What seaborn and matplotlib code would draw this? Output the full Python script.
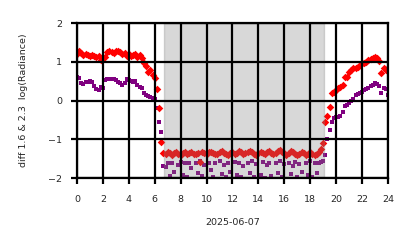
import numpy as np
import pandas as pd
import matplotlib
matplotlib.use("Agg")
import matplotlib.pyplot as plt
import seaborn as sns

# ---- data (10-minute samples, hours 0..24) ----
red_day1 = [1.2, 1.27, 1.22, 1.17, 1.2, 1.18,
            1.15, 1.18, 1.15, 1.12, 1.15, 1.05,
            1.1, 1.12, 1.25, 1.28, 1.25, 1.22,
            1.28, 1.27, 1.25, 1.2, 1.22, 1.15,
            1.2, 1.15, 1.18, 1.2, 1.12, 1.18,
            1.1, 0.98, 0.9, 0.75, 0.8, 0.65,
            0.58, 0.3, -0.18, -1.08, -1.35]
red_night = [-1.38, -1.33, -1.36, -1.40, -1.35, -1.32, -1.37, -1.41, -1.36, -1.33,
             -1.38, -1.36, -1.34, -1.37, -1.39, -1.35, -1.58, -1.33, -1.36, -1.38,
             -1.34, -1.32, -1.36, -1.39, -1.37, -1.34, -1.31, -1.35, -1.38, -1.40,
             -1.36, -1.33, -1.37, -1.35, -1.30, -1.34, -1.38, -1.36, -1.33, -1.29,
             -1.33, -1.37, -1.40, -1.36, -1.32, -1.35, -1.38, -1.34, -1.31, -1.36,
             -1.39, -1.35, -1.30, -1.27, -1.32, -1.36, -1.40, -1.36, -1.31, -1.34,
             -1.38, -1.41, -1.37, -1.33, -1.36, -1.40, -1.38, -1.34, -1.37, -1.41,
             -1.38, -1.33, -1.25]
red_day2 = [-1.1, -0.55, -0.4, -0.17, 0.2, 0.22,
            0.28, 0.32, 0.35, 0.4, 0.6, 0.62,
            0.73, 0.8, 0.83, 0.85, 0.86, 0.92,
            0.97, 0.98, 1.0, 1.05, 1.08, 1.1,
            1.12, 1.1, 1.03, 0.7, 0.85, 0.8, 0.85]

pur_day1 = [0.6, 0.58, 0.45, 0.42, 0.47, 0.48,
            0.5, 0.47, 0.38, 0.3, 0.27, 0.35,
            0.33, 0.52, 0.55, 0.55, 0.56, 0.55,
            0.52, 0.48, 0.45, 0.4, 0.45, 0.55,
            0.52, 0.5, 0.47, 0.5, 0.4, 0.35,
            0.33, 0.2, 0.15, 0.12, 0.1, 0.07,
            0.05, -0.2, -0.55, -0.8, -1.7]
pur_night = [-1.72, -1.62, -1.95, -1.60, -1.85, -2.05, -1.65, -1.58, -1.92, -1.60,
             -1.98, -1.62, -1.75, -2.10, -1.60, -1.88, -1.55, -1.95, -1.65, -2.02,
             -1.60, -1.80, -1.97, -1.62, -2.08, -1.57, -1.90, -1.65, -1.98, -1.60,
             -1.85, -2.05, -1.58, -1.93, -1.62, -1.98, -1.70, -2.10, -1.60, -1.88,
             -1.55, -1.97, -1.63, -2.04, -1.92, -1.58, -1.99, -1.66, -1.60, -1.95,
             -2.08, -1.62, -1.87, -1.57, -1.96, -1.64, -2.02, -1.60, -1.90, -1.70,
             -1.58, -1.98, -1.63, -1.85, -2.06, -1.60, -1.92, -1.55, -1.97, -1.62,
             -1.88, -1.60, -1.58]
pur_day2 = [-1.55, -1.4, -1.0, -0.77, -0.55, -0.45,
            -0.43, -0.42, -0.4, -0.3, -0.15, -0.12,
            -0.05, 0.0, 0.05, 0.14, 0.16, 0.19,
            0.22, 0.27, 0.3, 0.32, 0.38, 0.4,
            0.45, 0.42, 0.38, 0.19, 0.32, 0.3, 0.15]

night_start, night_end = 6.7, 19.1
xticks = [0, 2, 4, 6, 8, 10, 12, 14, 16, 18, 20, 22, 24]
yticks = [-2, -1, 0, 1, 2]

red = red_day1 + red_night + red_day2
pur = pur_day1 + pur_night + pur_day2
hours = np.arange(len(red)) / 6.0
df = pd.DataFrame({"hour": hours, "red": red, "purple": pur})

sns.set_theme(style="whitegrid")
plt.rcParams["font.family"] = ["DejaVu Sans"]

fig = plt.figure(figsize=(4.14, 2.48), dpi=100)
ax = fig.add_axes([0.186, 0.282, 0.751, 0.625])

sns.scatterplot(data=df, x="hour", y="purple", marker="s", s=11, color="purple",
                linewidth=0, ax=ax, zorder=2)
sns.scatterplot(data=df, x="hour", y="red", marker="D", s=15, color="red",
                linewidth=0, ax=ax, zorder=2.1)
ax.axvspan(night_start, night_end, color="gray", alpha=0.3, zorder=2.2)

ax.set_xlim(0, 24)
ax.set_ylim(-2, 2)
ax.set_xticks(xticks)
ax.set_yticks(yticks)
ax.set_axisbelow(False)
ax.grid(True, color="black", linewidth=1.6)
for s in ax.spines.values():
    s.set_color("black")
    s.set_linewidth(1.6)
    s.set_zorder(3)
ax.tick_params(axis="both", which="major", length=4.5, width=1.6, color="black",
               labelsize=6.8, bottom=True, left=True)
ax.tick_params(axis="x", pad=8)
ax.tick_params(axis="y", pad=6)
ax.set_xlabel("2025-06-07", fontsize=6.8, labelpad=10)
ax.set_ylabel("diff 1.6 & 2.3  log(Radiance)", fontsize=6.8, labelpad=15)

fig.savefig("out.png", dpi=100)
